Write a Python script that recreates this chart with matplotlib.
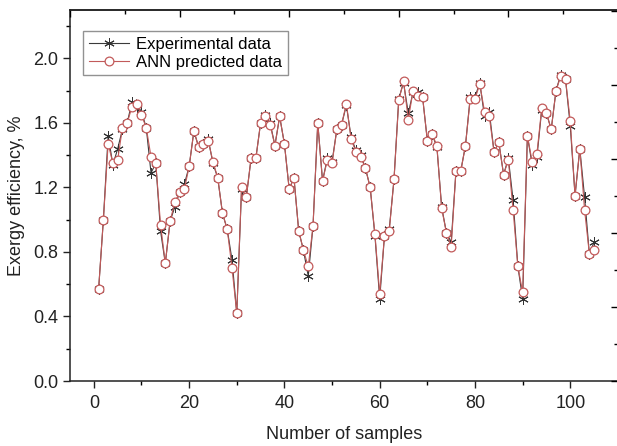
import numpy as np
import matplotlib
matplotlib.use("Agg")
import matplotlib.pyplot as plt
from matplotlib.ticker import MultipleLocator

plt.rcParams["font.family"] = ["Liberation Sans", "DejaVu Sans"]

# sample index 1..105
samples = list(range(1, 106))

experimental = [
    0.57, 1.00, 1.52, 1.34, 1.44, 1.56, 1.60, 1.73, 1.69, 1.67,
    1.57, 1.29, 1.35, 0.93, 0.73, 0.99, 1.08, 1.17, 1.22, 1.33,
    1.55, 1.45, 1.47, 1.50, 1.35, 1.26, 1.04, 0.94, 0.75, 0.42,
    1.19, 1.14, 1.38, 1.38, 1.60, 1.65, 1.60, 1.46, 1.64, 1.47,
    1.19, 1.26, 0.93, 0.81, 0.65, 0.96, 1.60, 1.24, 1.38, 1.36,
    1.56, 1.59, 1.71, 1.51, 1.43, 1.40, 1.32, 1.20, 0.90, 0.51,
    0.90, 0.94, 1.25, 1.75, 1.85, 1.66, 1.79, 1.79, 1.76, 1.49,
    1.53, 1.45, 1.08, 0.92, 0.86, 1.30, 1.30, 1.46, 1.76, 1.76,
    1.85, 1.64, 1.67, 1.42, 1.48, 1.28, 1.38, 1.12, 0.71, 0.51,
    1.52, 1.34, 1.39, 1.68, 1.66, 1.56, 1.80, 1.90, 1.87, 1.58,
    1.15, 1.44, 1.14, 0.79, 0.86,
]

ann_predicted = [
    0.57, 1.00, 1.47, 1.35, 1.37, 1.57, 1.60, 1.70, 1.72, 1.65,
    1.57, 1.39, 1.35, 0.97, 0.73, 0.99, 1.11, 1.17, 1.19, 1.33,
    1.55, 1.45, 1.47, 1.49, 1.36, 1.26, 1.04, 0.94, 0.70, 0.42,
    1.20, 1.14, 1.38, 1.38, 1.60, 1.64, 1.59, 1.46, 1.64, 1.47,
    1.19, 1.26, 0.93, 0.81, 0.71, 0.96, 1.60, 1.24, 1.37, 1.35,
    1.56, 1.59, 1.72, 1.50, 1.42, 1.39, 1.32, 1.20, 0.91, 0.54,
    0.90, 0.93, 1.25, 1.74, 1.86, 1.62, 1.80, 1.77, 1.76, 1.49,
    1.53, 1.46, 1.07, 0.92, 0.83, 1.30, 1.30, 1.46, 1.75, 1.75,
    1.84, 1.67, 1.64, 1.42, 1.48, 1.28, 1.37, 1.06, 0.71, 0.55,
    1.52, 1.36, 1.41, 1.69, 1.66, 1.56, 1.80, 1.89, 1.87, 1.61,
    1.15, 1.44, 1.06, 0.79, 0.81,
]

fig = plt.figure(figsize=(6.17, 4.46), dpi=100)
ax = fig.add_axes([0.1135, 0.1457, 0.888, 0.8318])

ax.plot(samples, experimental, color="#3a3a3a", lw=0.8, marker=(6, 2, 0),
        ms=7.5, mec="#333333", mew=0.7, label="Experimental data", zorder=2)
ax.plot(samples, ann_predicted, color="#c25a5a", lw=0.8, marker="o",
        ms=6.3, mfc="white", mec="#c25a5a", mew=0.9, label="ANN predicted data", zorder=3)

ax.set_xlim(-5, 110)
ax.set_ylim(0, 2.3)
ax.xaxis.set_major_locator(MultipleLocator(20))
ax.xaxis.set_minor_locator(MultipleLocator(10))
ax.yaxis.set_major_locator(MultipleLocator(0.4))
ax.yaxis.set_minor_locator(MultipleLocator(0.2))
ax.yaxis.set_major_formatter(matplotlib.ticker.FormatStrFormatter("%.1f"))
ax.tick_params(which="major", direction="out", length=5, width=1.0, labelsize=13,
               colors="#222222", top=False, right=False)
ax.tick_params(axis="x", which="major", pad=5)
ax.tick_params(which="minor", direction="out", length=3, width=1.0, top=False, right=False)
ax.set_xlabel("Number of samples", fontsize=13, color="#222222", labelpad=10)
ax.set_ylabel("Exergy efficiency, %", fontsize=13, color="#222222", labelpad=6)
for s in ax.spines.values():
    s.set_linewidth(1.1)
    s.set_color("#222222")

# leftover top / right axes of the original figure: ticks only
top = ax.twiny()
top.set_xlim(0, 5)
top.xaxis.set_major_locator(MultipleLocator(1))
top.xaxis.set_minor_locator(MultipleLocator(0.5))
top.tick_params(which="major", direction="in", length=5, width=1.0, labeltop=False)
top.tick_params(which="minor", direction="in", length=3, width=1.0)
right = ax.twinx()
right.set_ylim(0, 5.01)
right.yaxis.set_major_locator(MultipleLocator(1))
right.yaxis.set_minor_locator(MultipleLocator(0.5))
right.tick_params(which="major", direction="in", length=5, width=1.0, labelright=False)
right.tick_params(which="minor", direction="in", length=3, width=1.0)
for a in (top, right):
    for s in a.spines.values():
        s.set_visible(False)
top.spines["top"].set_visible(True)
top.spines["top"].set_linewidth(1.1)
top.spines["top"].set_color("#222222")

leg = ax.legend(loc="upper left", bbox_to_anchor=(0.024, 0.943), borderaxespad=0,
                fontsize=12, frameon=True, fancybox=False, numpoints=1,
                handlelength=2.4, handletextpad=0.4, borderpad=0.35, labelspacing=0.15)
leg.get_frame().set_edgecolor("#777777")
leg.get_frame().set_linewidth(1.0)

fig.savefig("out.png", dpi=100)
